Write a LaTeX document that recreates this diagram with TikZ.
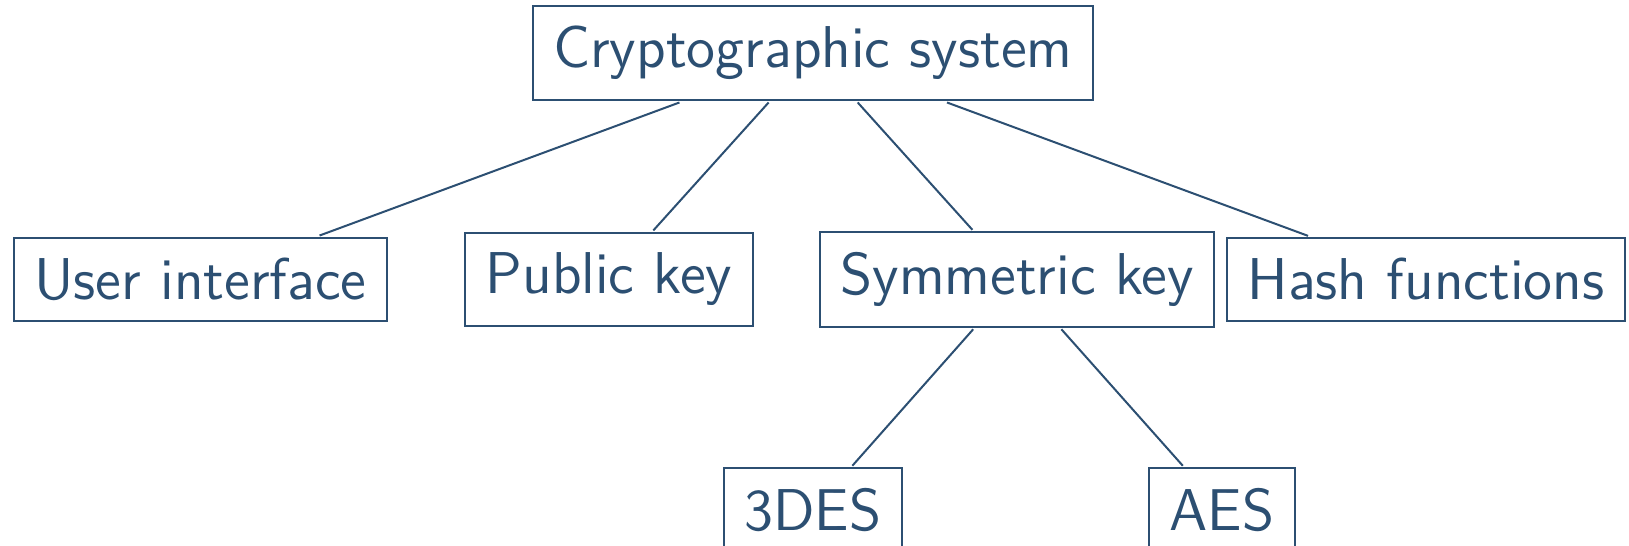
\documentclass[tikz,border=0pt]{standalone}
\definecolor{ink}{RGB}{44,79,114}
\begin{document}
\begin{tikzpicture}[x=0.20342pt,y=-0.20342pt,scale=2.458,transform shape,
  box/.style={draw=ink,text=ink,line width=1pt,inner xsep=4.2pt,inner ysep=4.1pt,
    font=\fontsize{12}{14}\selectfont\sffamily},
  link/.style={draw=ink,line width=1pt}]
\useasboundingbox (0,0) rectangle (1629,545);
\node[box] (root) at (813,53) {Cryptographic system};
\node[box] (ui) at (200.5,279.5) {User interface};
\node[box] (pub) at (609,279.5) {Public key};
\node[box] (sym) at (1017,279.5) {Symmetric key};
\node[box] (hash) at (1426,279.5) {Hash functions};
\node[box] (des) at (813,510) {3DES};
\node[box] (aes) at (1222,510) {AES};
\draw[link] (root) -- (ui);
\draw[link] (root) -- (pub);
\draw[link] (root) -- (sym);
\draw[link] (root) -- (hash);
\draw[link] (sym) -- (des);
\draw[link] (sym) -- (aes);
\end{tikzpicture}
\end{document}
